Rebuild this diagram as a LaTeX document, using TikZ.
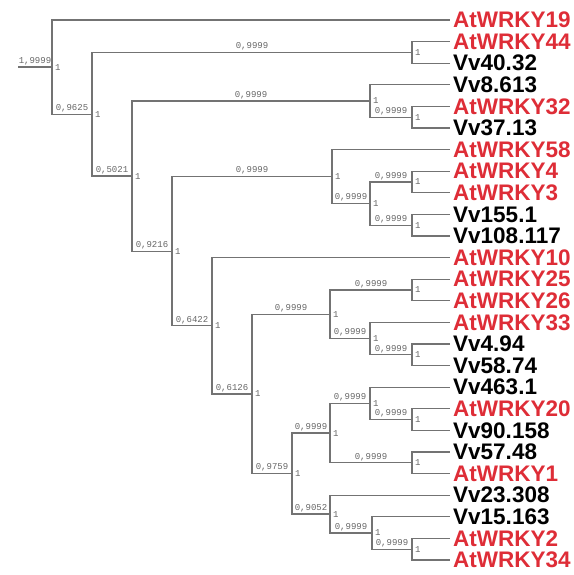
\documentclass[tikz,border=0pt]{standalone}
\usepackage{fontspec}
\setmainfont{Liberation Sans}
\setmonofont{Liberation Mono}
\usetikzlibrary{positioning}
\definecolor{atred}{RGB}{222,45,55}

\begin{document}
\begin{tikzpicture}[x=1pt, y=-1pt,
  branch/.style={draw=black!55, line width=1.3pt},
  leaf/.style={anchor=west, inner xsep=3pt, inner ysep=0pt,
    font=\fontsize{22.5}{22.5}\selectfont\bfseries},
  redleaf/.style={leaf, text=atred},
  blackleaf/.style={leaf, text=black},
  blab/.style={above, inner sep=1.5pt, text=black!60,
    font=\fontsize{9}{9}\selectfont\ttfamily},
  one/.style={anchor=west, inner sep=1pt, xshift=2pt, text=black!60,
    font=\fontsize{9}{9}\selectfont\ttfamily},
]
\useasboundingbox (0,0) rectangle (573,575);
% ---- leaves ----
\foreach \nm/\txt/\sty [count=\i from 0] in {
  w19/AtWRKY19/redleaf, w44/AtWRKY44/redleaf, v40/Vv40.32/blackleaf,
  v8/Vv8.613/blackleaf, w32/AtWRKY32/redleaf, v37/Vv37.13/blackleaf,
  w58/AtWRKY58/redleaf, w4/AtWRKY4/redleaf, w3/AtWRKY3/redleaf,
  v155/Vv155.1/blackleaf, v108/Vv108.117/blackleaf, w10/AtWRKY10/redleaf,
  w25/AtWRKY25/redleaf, w26/AtWRKY26/redleaf, w33/AtWRKY33/redleaf,
  v494/Vv4.94/blackleaf, v5874/Vv58.74/blackleaf, v463/Vv463.1/blackleaf,
  w20/AtWRKY20/redleaf, v90/Vv90.158/blackleaf, v57/Vv57.48/blackleaf,
  w1/AtWRKY1/redleaf, v23/Vv23.308/blackleaf, v15/Vv15.163/blackleaf,
  w2/AtWRKY2/redleaf, w34/AtWRKY34/redleaf}
  \node[\sty] (\nm) at (450,20+21.6*\i) {\txt};
% ---- inner nodes ----
\coordinate (stem) at (18,67.1);
\coordinate (n1) at (52,67.1);
\coordinate (n2) at (92,114.25);
\coordinate (n3) at (132,176.1);
\coordinate (n4) at (370,101);
\coordinate (n5) at (172,251.2);
\coordinate (n6) at (332,176.6);
\coordinate (n6b) at (370,203.6);
\coordinate (n7) at (212,325.8);
\coordinate (n8) at (252,394);
\coordinate (n9) at (330,314.3);
\coordinate (n9b) at (370,338.6);
\coordinate (n10) at (292,473.6);
\coordinate (n11) at (330,433.1);
\coordinate (n11b) at (370,403.4);
\coordinate (n12) at (330,514.1);
\coordinate (n12b) at (372,533);
% ---- pairs ----
\coordinate (c44) at (412,52.4);
\coordinate (c32) at (412,117.2);
\coordinate (c4) at (412,182);
\coordinate (c155) at (412,225.2);
\coordinate (c25) at (412,290);
\coordinate (c494) at (412,354.8);
\coordinate (c20) at (412,419.6);
\coordinate (c57) at (412,462.8);
\coordinate (c2) at (412,549.2);
\foreach \c in {n1,n2,n3,n4,n5,n6,n6b,n7,n8,n9,n9b,n10,n11,n11b,n12,n12b,
  c44,c32,c4,c155,c25,c494,c20,c57,c2}
  \node[one] (one-\c) at (\c) {1};
% ---- branches ----
\draw[branch] (stem) -- (n1) node[blab, midway]{1,9999};
\draw[branch] (n1) |- (w19.west);
\draw[branch] (n1) |- (n2) node[blab, pos=.75]{0,9625};
\draw[branch] (n2) |- (c44) node[blab, pos=.75]{0,9999};
\draw[branch] (n2) |- (n3) node[blab, pos=.75]{0,5021};
\draw[branch] (n3) |- (n4) node[blab, pos=.75]{0,9999};
\draw[branch] (n3) |- (n5) node[blab, pos=.75]{0,9216};
\draw[branch] (n4) |- (v8.west);
\draw[branch] (n4) |- (c32) node[blab, pos=.75]{0,9999};
\draw[branch] (n5) |- (n6) node[blab, pos=.75]{0,9999};
\draw[branch] (n5) |- (n7) node[blab, pos=.75]{0,6422};
\draw[branch] (n6) |- (w58.west);
\draw[branch] (n6) |- (n6b) node[blab, pos=.75]{0,9999};
\draw[branch] (n6b) |- (c4) node[blab, pos=.75]{0,9999};
\draw[branch] (n6b) |- (c155) node[blab, pos=.75]{0,9999};
\draw[branch] (n7) |- (w10.west);
\draw[branch] (n7) |- (n8) node[blab, pos=.75]{0,6126};
\draw[branch] (n8) |- (n9) node[blab, pos=.75]{0,9999};
\draw[branch] (n8) |- (n10) node[blab, pos=.75]{0,9759};
\draw[branch] (n9) |- (c25) node[blab, pos=.75]{0,9999};
\draw[branch] (n9) |- (n9b) node[blab, pos=.75]{0,9999};
\draw[branch] (n9b) |- (w33.west);
\draw[branch] (n9b) |- (c494) node[blab, pos=.75]{0,9999};
\draw[branch] (n10) |- (n11) node[blab, pos=.75]{0,9999};
\draw[branch] (n10) |- (n12) node[blab, pos=.75]{0,9052};
\draw[branch] (n11) |- (n11b) node[blab, pos=.75]{0,9999};
\draw[branch] (n11) |- (c57) node[blab, pos=.75]{0,9999};
\draw[branch] (n11b) |- (v463.west);
\draw[branch] (n11b) |- (c20) node[blab, pos=.75]{0,9999};
\draw[branch] (n12) |- (v23.west);
\draw[branch] (n12) |- (n12b) node[blab, pos=.75]{0,9999};
\draw[branch] (n12b) |- (v15.west);
\draw[branch] (n12b) |- (c2) node[blab, pos=.75]{0,9999};
% ---- leaf pairs ----
\foreach \c/\a/\b in {c44/w44/v40, c32/w32/v37, c4/w4/w3, c155/v155/v108,
  c25/w25/w26, c494/v494/v5874, c20/w20/v90, c57/v57/w1, c2/w2/w34}{
  \draw[branch] (\c) |- (\a.west);
  \draw[branch] (\c) |- (\b.west);
}
\end{tikzpicture}
\end{document}
